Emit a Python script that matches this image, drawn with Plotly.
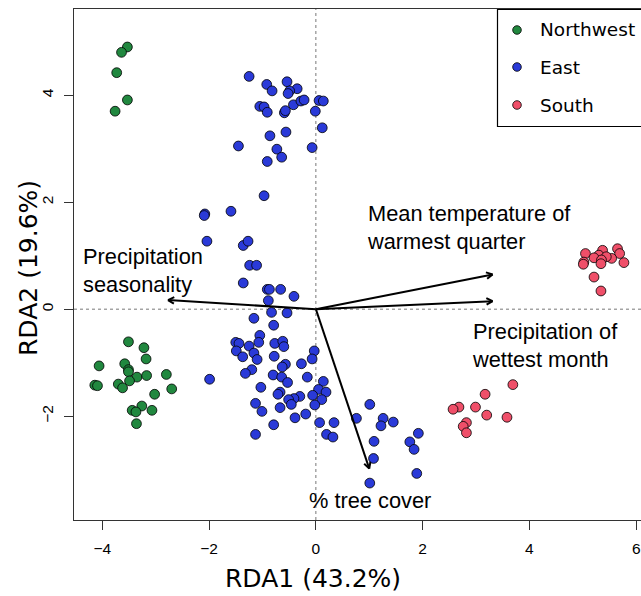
import numpy as np
import plotly.graph_objects as go

# ---------------- data ----------------
nw_x = [-3.53, -3.64, -3.73, -3.53, -3.76,
        -3.51, -3.22, -3.18, -4.06, -3.58, -3.51, -3.51, -3.35, -3.17, -2.80, -3.49,
        -3.70, -3.62, -4.14, -4.09, -2.70, -3.02, -3.26, -3.44, -3.37, -3.07, -3.36]
nw_y = [4.90, 4.80, 4.42, 3.91, 3.70,
        -0.61, -0.72, -0.93, -1.06, -1.02, -1.13, -1.17, -1.27, -1.24, -1.22, -1.34,
        -1.40, -1.47, -1.42, -1.43, -1.49, -1.59, -1.81, -1.89, -1.92, -1.89, -2.14]

east_x = [-1.25, -0.92, -0.82, -0.54, -0.35, -0.49, -0.52, -1.05, -0.97, -0.91, -0.59, -0.57,
          -0.42, -0.28, -0.22, 0.06, 0.14, -0.01, 0.12, -0.07, -0.56, -0.86, -0.73, -0.64,
          -0.91, -1.45, -0.97, -1.59, -2.08, -2.09, -2.04, -1.36, -1.27, -1.24, -1.11, -1.36,
          -0.91, -0.87, -0.66, -0.41, -0.89,
          -0.83, -0.54, -1.16, -0.79, -1.05, -1.07, -1.50, -1.44, -0.77, -0.62, -0.60, -1.49,
          -1.25, -1.16, -1.37, -1.10, -0.78, -0.03, -0.07, -0.27, -0.57, -0.63, -1.20, -1.32,
          -0.80, -0.64, -0.16, -0.53, 0.14, -1.03, 0.05, 0.19, -0.67, -0.71, -0.06, -0.30,
          -0.41, -0.51, 0.11, -0.46, -0.02, -1.13, -1.99, -1.01, -0.67, -0.19, -0.39, -0.79,
          -1.13, 0.07, 0.34, 0.20, 0.32, 0.76, 1.01, 1.26, 1.45, 1.22, 1.09, 1.08, 1.01,
          1.92, 1.76, 1.84, 1.89]
east_y = [4.35, 4.20, 4.08, 4.25, 4.12, 4.08, 4.03, 3.79, 3.78, 3.68, 3.67, 3.71,
          3.82, 3.89, 3.91, 3.90, 3.89, 3.70, 3.39, 3.02, 3.31, 3.24, 2.99, 2.84,
          2.76, 3.05, 2.12, 1.83, 1.78, 1.75, 1.27, 1.19, 1.27, 0.82, 0.82, 0.49,
          0.37, 0.37, 0.37, 0.24, 0.16,
          -0.06, -0.07, -0.17, -0.30, -0.49, -0.62, -0.62, -0.64, -0.64, -0.60, -0.70, -0.78,
          -0.69, -0.82, -0.89, -0.94, -0.88, -0.78, -0.93, -1.02, -1.03, -1.08, -1.13, -1.20,
          -1.23, -1.27, -1.27, -1.37, -1.35, -1.46, -1.50, -1.55, -1.55, -1.59, -1.61, -1.63,
          -1.67, -1.69, -1.69, -1.78, -1.79, -1.76, -1.31, -1.91, -1.84, -1.96, -2.03, -2.16,
          -2.34, -2.12, -2.12, -2.34, -2.39, -2.04, -1.78, -2.04, -2.11, -2.18, -2.47, -2.79, -3.25,
          -2.32, -2.48, -2.62, -3.07]

south_x = [5.05, 5.37, 5.65, 5.69, 5.30, 5.21, 5.54, 5.44, 5.35, 5.02, 5.01, 5.77, 5.34,
           5.21, 5.34,
           3.69, 3.17, 2.68, 2.57, 2.99, 3.20, 3.58, 2.82, 2.76, 2.82]
south_y = [1.04, 1.10, 1.13, 1.04, 1.01, 0.96, 0.95, 0.98, 0.92, 0.88, 0.84, 0.87, 0.85,
           0.60, 0.34,
           -1.41, -1.59, -1.83, -1.87, -1.83, -1.98, -2.02, -2.12, -2.19, -2.31]

groups = ["Northwest", "East", "South"]
group_colors = ["#21883F", "#2A3AD8", "#EF4F69"]
group_x = [nw_x, east_x, south_x]
group_y = [nw_y, east_y, south_y]

# biplot arrows (environmental vectors)
arrow_x = [-2.77, 3.31, 3.31, 1.00]
arrow_y = [0.17, 0.65, 0.15, -2.98]
arrow_labels = ["Precipitation<br>seasonality",
                "Mean temperature of<br>warmest quarter",
                "Precipitation of<br>wettest month",
                "% tree cover"]
label_x = [-4.40, 0.92, 2.88, 1.01]
label_y = [0.73, 1.53, -0.67, -3.57]
label_anchor = ["left", "left", "left", "center"]

x_ticks = [-4, -2, 0, 2, 4, 6]
y_ticks = [-2, 0, 2, 4]
x_title = "RDA1 (43.2%)"
y_title = "RDA2 (19.6%)"

# ---------------- figure ----------------
W, H = 641, 596
ML, MR, MT, MB = 74, 0, 9, 76
x_range = [-4.53, 6.09]
y_range = [-3.94, 5.61]

fig = go.Figure()

for name, col, xs, ys in zip(groups, group_colors, group_x, group_y):
    fig.add_trace(go.Scatter(
        x=xs, y=ys, mode="markers", name=name, showlegend=False,
        marker=dict(size=9.8, color=col, line=dict(color="black", width=0.8)),
        hoverinfo="skip"))

# arrows: shafts and open heads
head_len = 0.13
ang = np.deg2rad(28)
for ax_, ay_ in zip(arrow_x, arrow_y):
    v = -np.array([ax_, ay_]) / np.hypot(ax_, ay_)
    xs = [0, ax_, None]
    ys = [0, ay_, None]
    for s in (1, -1):
        c, sn = np.cos(s * ang), np.sin(s * ang)
        d = np.array([c * v[0] - sn * v[1], sn * v[0] + c * v[1]]) * head_len
        xs += [ax_, ax_ + d[0], None]
        ys += [ay_, ay_ + d[1], None]
    fig.add_trace(go.Scatter(x=xs, y=ys, mode="lines", showlegend=False,
                             line=dict(color="black", width=2), hoverinfo="skip"))

for txt, lx, ly, anc in zip(arrow_labels, label_x, label_y, label_anchor):
    fig.add_annotation(x=lx, y=ly, xref="x", yref="y", text=txt, showarrow=False,
                       xanchor=anc, yanchor="middle", align="left",
                       font=dict(family="Liberation Sans, Arial", size=21.8, color="black"))

shapes = [
    dict(type="line", xref="x", yref="paper", x0=0, x1=0, y0=0, y1=1,
         line=dict(color="#777777", width=1, dash="dot"), layer="below"),
    dict(type="line", xref="paper", yref="y", x0=0, x1=1, y0=0, y1=0,
         line=dict(color="#777777", width=1, dash="dot"), layer="below"),
]

pw = W - ML - MR
ph = H - MT - MB
def px2paper_x(p):
    return (p - ML) / pw
def px2paper_y(p):
    return 1 - (p - MT) / ph

# legend box (drawn manually, clipped by the figure edge like the reference)
shapes.append(dict(type="rect", xref="paper", yref="paper",
                   x0=px2paper_x(497.5), x1=px2paper_x(700), y0=px2paper_y(126.5), y1=px2paper_y(9.5),
                   line=dict(color="black", width=1.2), fillcolor="white", layer="above"))
leg_rows = [30, 67, 105]
for name, col, row in zip(groups, group_colors, leg_rows):
    shapes.append(dict(type="circle", xref="paper", yref="paper",
                       xsizemode="pixel", ysizemode="pixel",
                       xanchor=px2paper_x(517), yanchor=px2paper_y(row),
                       x0=-4.3, x1=4.3, y0=-4.3, y1=4.3,
                       fillcolor=col, line=dict(color="black", width=0.8), layer="above"))
    fig.add_annotation(x=px2paper_x(538), y=px2paper_y(row), xref="paper", yref="paper",
                       text=name, showarrow=False, xanchor="left", yanchor="middle",
                       font=dict(family="DejaVu Sans", size=18.5, color="black"))

# axis titles
fig.add_annotation(x=px2paper_x(313), y=px2paper_y(578), xref="paper", yref="paper",
                   text=x_title, showarrow=False, xanchor="center", yanchor="middle",
                   font=dict(family="DejaVu Sans", size=25, color="black"))
fig.add_annotation(x=px2paper_x(28), y=px2paper_y(268), xref="paper", yref="paper",
                   text=y_title, showarrow=False, xanchor="center", yanchor="middle",
                   textangle=-90,
                   font=dict(family="DejaVu Sans", size=25, color="black"))

tick_fmt = lambda v: f"{v:g}".replace("-", "\u2212")

fig.update_layout(
    width=W, height=H,
    margin=dict(l=ML, r=MR, t=MT, b=MB, pad=0),
    paper_bgcolor="white", plot_bgcolor="white",
    shapes=shapes,
    showlegend=False,
    hovermode=False,
    xaxis=dict(range=x_range, tickvals=x_ticks, ticktext=[tick_fmt(v) for v in x_ticks],
               automargin=False,
               showgrid=False, zeroline=False, showline=True, mirror=True,
               linecolor="#333333", linewidth=1.2, ticks="outside", ticklen=9,
               tickcolor="#333333", tickwidth=1.2, ticklabelstandoff=5,
               tickfont=dict(family="Liberation Sans, Arial", size=15.5, color="black")),
    yaxis=dict(range=y_range, tickvals=y_ticks, ticktext=[tick_fmt(v) for v in y_ticks],
               automargin=False,
               showgrid=False, zeroline=False, showline=True, mirror=False,
               linecolor="#333333", linewidth=1.2, ticks="outside", ticklen=9,
               tickcolor="#333333", tickwidth=1.2, tickangle=-90, ticklabelstandoff=5,
               tickfont=dict(family="Liberation Sans, Arial", size=15.5, color="black")),
)

fig.write_html("out.html", config={"displayModeBar": False},
               post_script="document.body.style.margin='0px';document.body.style.padding='0px';")
